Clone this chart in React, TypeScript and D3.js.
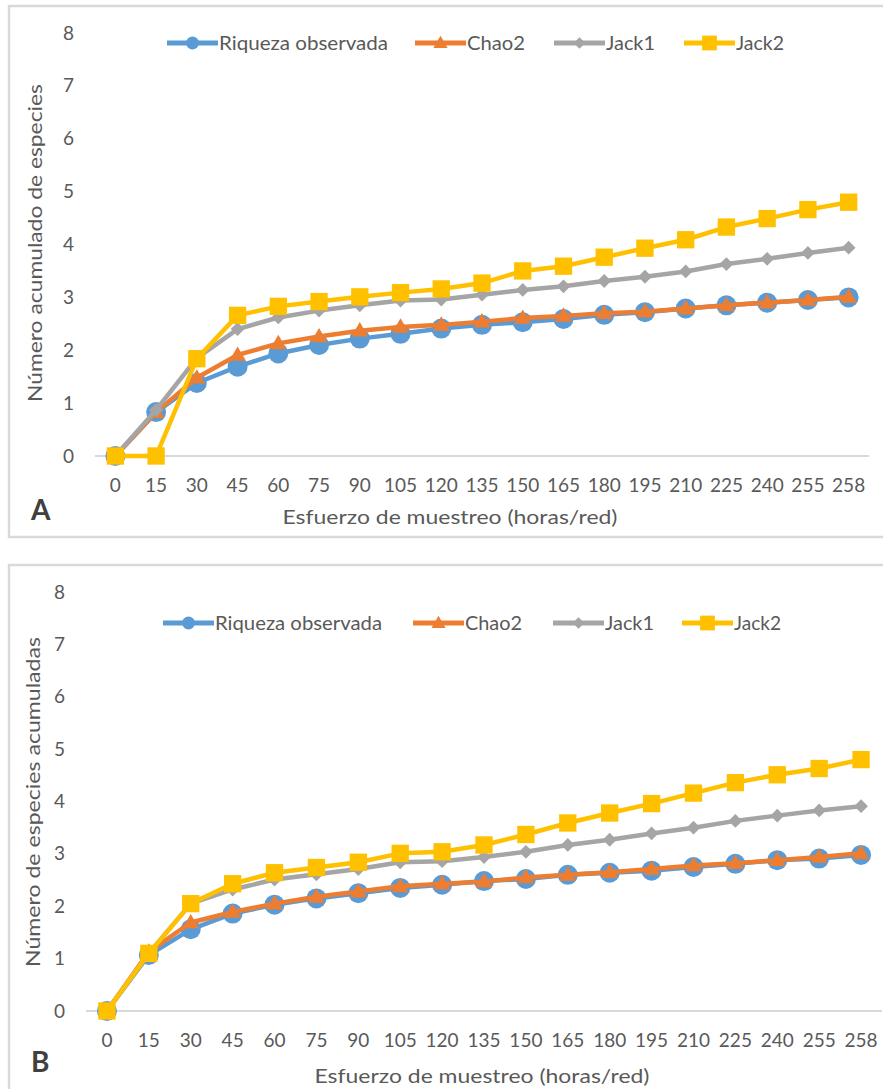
import { useEffect, useRef } from "react";
import * as d3 from "d3";

// esfuerzo de muestreo (horas/red)
const esfuerzo = ["0", "15", "30", "45", "60", "75", "90", "105", "120", "135", "150", "165", "180", "195", "210", "225", "240", "255", "258"];
const yTicks = [0, 1, 2, 3, 4, 5, 6, 7, 8];
const seriesNames = ["Riqueza observada", "Chao2", "Jack1", "Jack2"];

// panel A
const riquezaA = [0, 0.83, 1.38, 1.69, 1.94, 2.1, 2.22, 2.31, 2.41, 2.48, 2.53, 2.59, 2.67, 2.72, 2.79, 2.85, 2.9, 2.95, 3.0];
const chao2A = [0, 0.83, 1.48, 1.91, 2.13, 2.26, 2.37, 2.44, 2.48, 2.54, 2.61, 2.65, 2.7, 2.73, 2.79, 2.85, 2.9, 2.95, 3.01];
const jack1A = [0, 0.87, 1.85, 2.4, 2.62, 2.75, 2.85, 2.94, 2.96, 3.05, 3.14, 3.21, 3.31, 3.39, 3.49, 3.63, 3.73, 3.84, 3.94];
const jack2A = [0, 0, 1.84, 2.66, 2.83, 2.92, 3.01, 3.09, 3.16, 3.27, 3.5, 3.59, 3.76, 3.93, 4.09, 4.33, 4.49, 4.66, 4.8];

// panel B
const riquezaB = [0, 1.07, 1.56, 1.86, 2.03, 2.15, 2.25, 2.35, 2.41, 2.48, 2.52, 2.6, 2.64, 2.68, 2.75, 2.81, 2.88, 2.91, 2.98];
const chao2B = [0, 1.13, 1.69, 1.89, 2.05, 2.18, 2.28, 2.38, 2.43, 2.47, 2.55, 2.6, 2.65, 2.71, 2.78, 2.82, 2.88, 2.94, 3.01];
const jack1B = [0, 1.1, 2.05, 2.32, 2.51, 2.61, 2.71, 2.84, 2.86, 2.94, 3.04, 3.17, 3.27, 3.39, 3.5, 3.63, 3.73, 3.83, 3.91];
const jack2B = [0, 1.1, 2.05, 2.43, 2.64, 2.74, 2.84, 3.01, 3.04, 3.17, 3.37, 3.59, 3.78, 3.96, 4.16, 4.36, 4.51, 4.63, 4.8];

const colors = ["#5B9BD5", "#ED7D31", "#A5A5A5", "#FFC000"];
const FONT = "Lato, 'Open Sans', sans-serif";
const textCol = "#595959";

function Marker({ i, x, y, k = 1 }) {
  const c = colors[i];
  if (i === 0) return <circle cx={x} cy={y} r={10 * k} fill={c} />;
  if (i === 1) {
    const p = d3.symbol(d3.symbolTriangle, 120 * k * k)();
    return <path d={p} transform={`translate(${x},${y + 1})`} fill={c} />;
  }
  if (i === 2) {
    const p = d3.symbol(d3.symbolSquare, 95 * k * k)();
    return <path d={p} transform={`translate(${x},${y}) rotate(45)`} fill={c} />;
  }
  const p = d3.symbol(d3.symbolSquare, 300 * k * k)();
  return <path d={p} transform={`translate(${x},${y})`} fill={c} />;
}

function Panel({ series, cfg }) {
  const xRef = useRef(null);
  const yRef = useRef(null);

  const x = d3.scaleBand().domain(esfuerzo).range([cfg.left, cfg.right]).padding(0);
  const y = d3.scaleLinear().domain([0, 8]).range([cfg.bottom, cfg.top]);
  const cx = (d) => x(d) + x.bandwidth() / 2;

  useEffect(() => {
    const gx = d3.select(xRef.current);
    gx.call(d3.axisBottom(x).tickSize(0).tickPadding(23));
    gx.select(".domain").remove();
    gx.selectAll("text").attr("fill", textCol).style("font-size", "19px").style("font-family", FONT);

    const gy = d3.select(yRef.current);
    gy.call(d3.axisLeft(y).tickValues(yTicks).tickSize(0).tickPadding(21));
    gy.select(".domain").remove();
    gy.selectAll("text").attr("fill", textCol).style("font-size", "19px").style("font-family", FONT);
  });

  const line = d3.line<number>().x((_, j) => cx(esfuerzo[j])).y((v) => y(v));

  return (
    <g>
      <rect x={9} y={cfg.boxTop} width={900} height={cfg.boxH} fill="#fff" stroke="#D9D9D9" strokeWidth={2.5} />
      <line x1={cfg.left} x2={cfg.right} y1={y(0)} y2={y(0)} stroke="#D9D9D9" strokeWidth={2} />
      <g ref={xRef} transform={`translate(0,${cfg.bottom})`} />
      <g ref={yRef} transform={`translate(${cfg.left},0)`} />

      {series.map((vals, i) => (
        <g key={i}>
          <path d={line(vals)} fill="none" stroke={colors[i]} strokeWidth={4.5} strokeLinejoin="round" />
          {vals.map((v, j) => (
            <Marker key={j} i={i} x={cx(esfuerzo[j])} y={y(v)} />
          ))}
        </g>
      ))}

      {seriesNames.map((name, i) => {
        const x0 = cfg.legendX[i];
        return (
          <g key={name}>
            <line x1={x0} x2={x0 + 51} y1={cfg.legendY} y2={cfg.legendY} stroke={colors[i]} strokeWidth={5} />
            <Marker i={i} x={x0 + 25.5} y={cfg.legendY} k={i === 0 ? 0.65 : 0.85} />
            <text x={x0 + 52} y={cfg.legendY + 7} fontSize={20} fontFamily={FONT} fill={textCol}
              textLength={cfg.legendW[i]} lengthAdjust="spacingAndGlyphs">{name}</text>
          </g>
        );
      })}

      <text transform={`translate(${cfg.yTitleX},${cfg.yTitleY}) rotate(-90)`} textAnchor="middle"
        fontSize={20} fontFamily={FONT} fill={textCol} textLength={cfg.yTitleW} lengthAdjust="spacingAndGlyphs">
        {cfg.yTitle}
      </text>
      <text x={cfg.xTitleX} y={cfg.xTitleY} textAnchor="middle" fontSize={20} fontFamily={FONT} fill={textCol}
        textLength={335} lengthAdjust="spacingAndGlyphs">
        Esfuerzo de muestreo (horas/red)
      </text>
      <text x={31} y={cfg.letterY} fontSize={28} fontWeight="bold" fontFamily={FONT} fill="#404040">{cfg.letter}</text>
    </g>
  );
}

const cfgA = {
  boxTop: 6, boxH: 531, left: 95, right: 869, top: 33, bottom: 456,
  legendY: 43, legendX: [167, 415, 554, 684], legendW: [169, 58, 49, 48],
  yTitle: "Número acumulado de especies", yTitleX: 42, yTitleY: 243, yTitleW: 318,
  xTitleX: 450, xTitleY: 524, letter: "A", letterY: 520,
};
const cfgB = {
  boxTop: 565, boxH: 600, left: 86, right: 882, top: 592, bottom: 1011,
  legendY: 623, legendX: [163, 413, 553, 682], legendW: [167, 57, 49, 47],
  yTitle: "Número de especies acumuladas", yTitleX: 40, yTitleY: 802, yTitleW: 330,
  xTitleX: 482, xTitleY: 1083, letter: "B", letterY: 1072,
};

export default function App() {
  return (
    <svg width={883} height={1089} style={{ position: "absolute", left: 0, top: 0, background: "#fff" }}>
      <Panel series={[riquezaA, chao2A, jack1A, jack2A]} cfg={cfgA} />
      <Panel series={[riquezaB, chao2B, jack1B, jack2B]} cfg={cfgB} />
    </svg>
  );
}
